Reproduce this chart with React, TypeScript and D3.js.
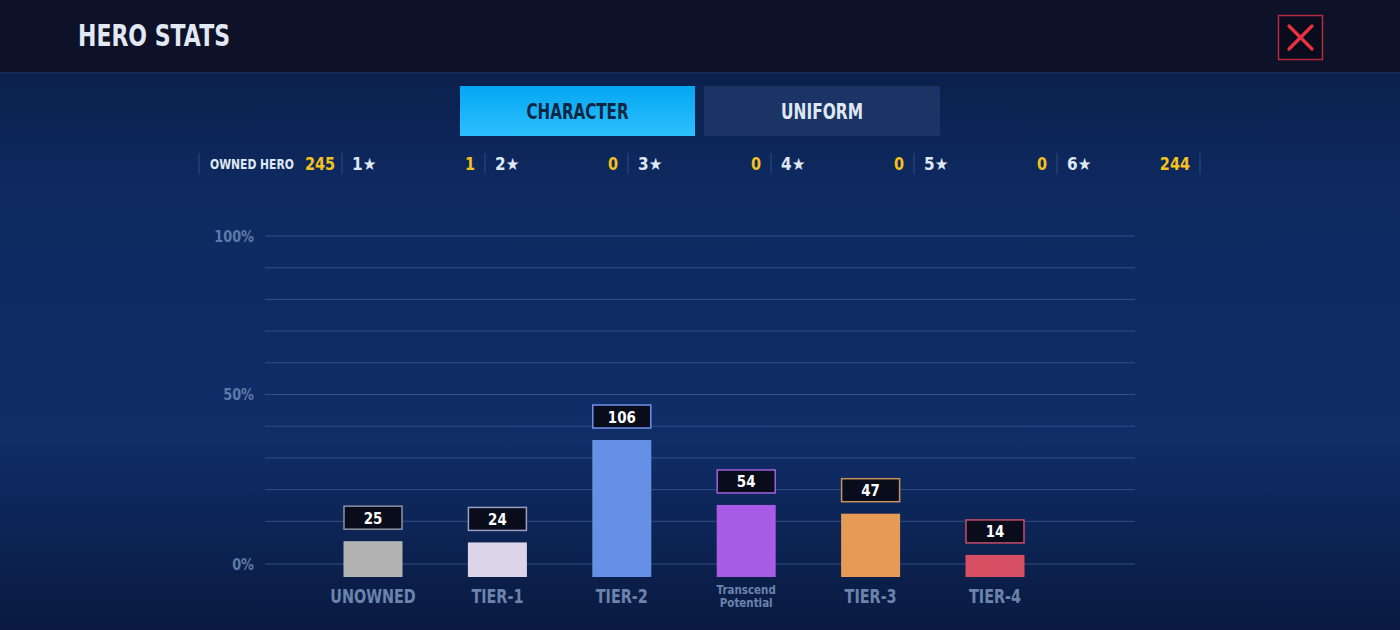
import React from 'react';
import * as d3 from 'd3';

const categories = ['UNOWNED', 'TIER-1', 'TIER-2', 'Transcend Potential', 'TIER-3', 'TIER-4'];
const counts = [25, 24, 106, 54, 47, 14];
const ownedHero = 245;
const barColors = ['#b3b3b3', '#dcd5ea', '#6590e6', '#a85be4', '#e59a55', '#d64f62'];
const boxBorders = ['#8d93a6', '#9aa0c4', '#6f93e8', '#a45ee0', '#c8935e', '#c84c68'];
const starLabels = ['1★', '2★', '3★', '4★', '5★', '6★'];
const starCounts = [1, 0, 0, 0, 0, 244];
const yTickValues = [100, 50, 0];
const yTickLabels = ['100%', '50%', '0%'];
const gridValues = [0, 10, 20, 30, 40, 50, 60, 70, 80, 90, 100];

const W = 1400;
const H = 630;
const FONT = "'DejaVu Sans', sans-serif";

function CText(props: any) {
  const { x, y, sx, children, ...rest } = props;
  return (
    <text transform={`translate(${x},${y}) scale(${sx},1)`} fontWeight="bold" {...rest}>
      {children}
    </text>
  );
}

export default function App() {
  const pct = counts.map((c) => (c / ownedHero) * 100);

  const x = d3.scalePoint<string>().domain(categories).range([373, 995]);
  const barW = 59;
  const yGrid = d3.scaleLinear().domain([0, 100]).range([553, 236]);
  const zeroOffset = 11;
  const gridY = (v: number) => (v === 0 ? yGrid(0) + zeroOffset : yGrid(v));
  const yBar = d3.scaleLinear().domain([0, 100]).range([572.4, 266.4]);
  const barBase = 577;

  const sep = d3.scaleLinear().domain([0, 7]).range([199, 1200]);
  const statsY = 169;

  return (
    <svg
      width={W}
      height={H}
      style={{ position: 'absolute', left: 0, top: 0, display: 'block' }}
      fontFamily={FONT}
    >
      <defs>
        <linearGradient id="bg" x1="0" y1="0" x2="0" y2="1">
          <stop offset="0" stopColor="#0a1a3f" />
          <stop offset="0.3" stopColor="#0e2a61" />
          <stop offset="0.7" stopColor="#0f2d67" />
          <stop offset="1" stopColor="#0a1a40" />
        </linearGradient>
        <linearGradient id="tabOn" x1="0" y1="0" x2="0" y2="1">
          <stop offset="0" stopColor="#05a6f2" />
          <stop offset="1" stopColor="#2cc0ff" />
        </linearGradient>
      </defs>

      <rect x={0} y={0} width={W} height={H} fill="url(#bg)" />
      <rect x={0} y={0} width={W} height={72} fill="#0d1229" />
      <rect x={0} y={72} width={W} height={2} fill="#15295a" />

      <text x={78} y={46} fill="#e2e9f4" fontSize={30} fontWeight="bold" textLength={152} lengthAdjust="spacingAndGlyphs">
        HERO STATS
      </text>

      <rect x={1278.5} y={15.5} width={44} height={44} fill="#080c1c" stroke="#b52a3c" strokeWidth={1.5} />
      <line x1={1289} y1={26} x2={1312} y2={49} stroke="#ec3040" strokeWidth={3.2} strokeLinecap="round" />
      <line x1={1312} y1={26} x2={1289} y2={49} stroke="#ec3040" strokeWidth={3.2} strokeLinecap="round" />

      <rect x={460} y={86} width={235} height={50} fill="url(#tabOn)" />
      <text x={577.5} y={119} textAnchor="middle" fill="#0c2741" fontSize={22} fontWeight="bold" textLength={102} lengthAdjust="spacingAndGlyphs">
        CHARACTER
      </text>
      <rect x={704} y={86} width={236} height={50} fill="#1b3465" />
      <text x={822} y={119} textAnchor="middle" fill="#dfe7f4" fontSize={22} fontWeight="bold" textLength={82} lengthAdjust="spacingAndGlyphs">
        UNIFORM
      </text>

      {d3.range(8).map((i) => (
        <line key={'sep' + i} x1={sep(i)} x2={sep(i)} y1={153} y2={174} stroke="#2d4a7e" strokeWidth={1} />
      ))}
      <CText x={sep(0) + 11} y={statsY} sx={0.77} fill="#dfe7f4" fontSize={14}>
        OWNED HERO
      </CText>
      <CText x={sep(0) + 106} y={statsY + 1} sx={0.85} fill="#f5c21b" fontSize={17}>
        {ownedHero}
      </CText>
      {starLabels.map((s, i) => (
        <g key={'st' + i}>
          <CText x={sep(i + 1) + 10} y={statsY + 1} sx={0.9} fill="#dfe7f4" fontSize={17}>
            {s}
          </CText>
          <CText x={sep(i + 2) - 10} y={statsY + 1} sx={0.85} textAnchor="end" fill="#f5c21b" fontSize={17}>
            {starCounts[i]}
          </CText>
        </g>
      ))}

      {gridValues.map((v) => (
        <line key={'g' + v} x1={265} x2={1135} y1={gridY(v)} y2={gridY(v)} stroke="#3b5d96" strokeOpacity={0.75} strokeWidth={1} />
      ))}
      {yTickValues.map((v, i) => (
        <CText key={'yt' + v} x={254} y={gridY(v) + 5.5} sx={0.86} textAnchor="end" fill="#5f7aa6" fontSize={15}>
          {yTickLabels[i]}
        </CText>
      ))}

      {categories.map((c, i) => {
        const cx = x(c) as number;
        const top = yBar(pct[i]);
        return (
          <g key={c}>
            <rect x={cx - barW / 2} y={top} width={barW} height={barBase - top} fill={barColors[i]} />
            <rect x={cx - 29} y={top - 35} width={58} height={23} fill="#080c1b" stroke={boxBorders[i]} strokeWidth={1.5} />
            <CText x={cx} y={top - 17.5} sx={0.84} textAnchor="middle" fill="#ffffff" fontSize={16}>
              {counts[i]}
            </CText>
            {c === 'Transcend Potential' ? (
              <g>
                <CText x={cx} y={594} sx={0.86} textAnchor="middle" fill="#6c84ac" fontSize={12}>
                  Transcend
                </CText>
                <CText x={cx} y={607} sx={0.86} textAnchor="middle" fill="#6c84ac" fontSize={12}>
                  Potential
                </CText>
              </g>
            ) : (
              <CText x={cx} y={603} sx={0.72} textAnchor="middle" fill="#6c84ac" fontSize={20}>
                {c}
              </CText>
            )}
          </g>
        );
      })}
    </svg>
  );
}
